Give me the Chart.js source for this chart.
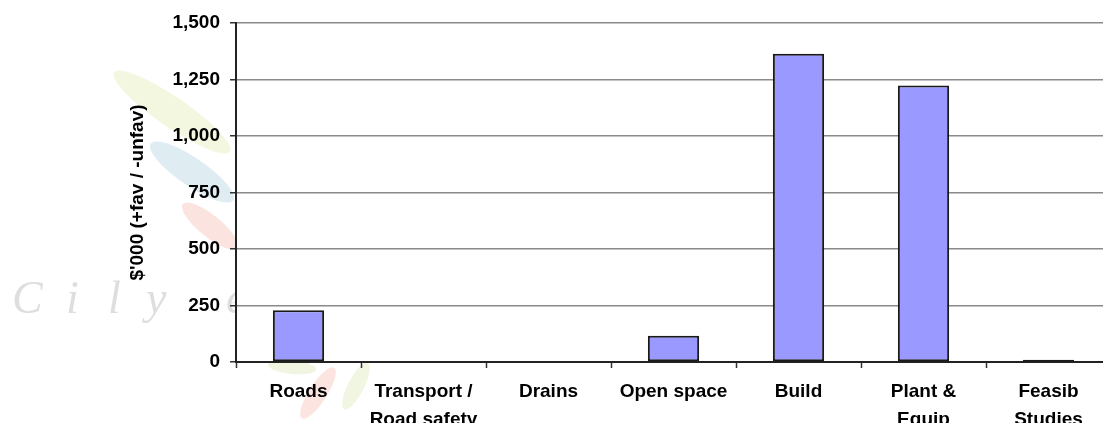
<!DOCTYPE html>
<html>
<head>
<meta charset="utf-8">
<script src="https://cdn.jsdelivr.net/npm/chart.js@4.4.1/dist/chart.umd.min.js"></script>
<style>
  html, body { margin: 0; padding: 0; background: #fff; overflow: hidden; }
  #wrap { width: 1103px; height: 423px; overflow: hidden; }
</style>
</head>
<body>
<div id="wrap"><canvas id="varianceChart" width="1112" height="423"></canvas></div>
<script>
// Capital works variance by program ($'000)
const categories = [
    ['Roads'],
    ['Transport /', 'Road safety'],
    ['Drains'],
    ['Open space'],
    ['Build'],
    ['Plant &', 'Equip'],
    ['Feasib', 'Studies']
];
const variance = [229, 0, 0, 116, 1364, 1224, 10];
const yTicks = [0, 250, 500, 750, 1000, 1250, 1500];

const baseFont = { family: "'Liberation Sans', Arial, sans-serif", size: 19, weight: 'bold' };

// Faded "City" watermark with leaves behind the plot area
const watermark = {
    id: 'watermark',
    beforeDraw(chart) {
        const ctx = chart.ctx;
        ctx.save();
        const leaves = [
            [172, 112, 70, 15, 0.6, 'rgba(220,230,150,0.30)'],
            [192, 172, 50, 14, 0.6, 'rgba(150,195,215,0.30)'],
            [210, 226, 35, 11, 0.68, 'rgba(240,150,135,0.26)'],
            [292, 367, 24, 7, 0.1, 'rgba(205,222,160,0.30)'],
            [318, 393, 30, 9, -1.0, 'rgba(245,155,135,0.26)'],
            [356, 386, 26, 8, -1.1, 'rgba(210,225,160,0.30)']
        ];
        leaves.forEach(([x, y, rx, ry, rot, color]) => {
            ctx.beginPath();
            ctx.ellipse(x, y, rx, ry, rot, 0, Math.PI * 2);
            ctx.fillStyle = color;
            ctx.fill();
        });
        ctx.font = "italic 46px 'Liberation Serif', serif";
        ctx.fillStyle = 'rgba(200,200,200,0.6)';
        ctx.textBaseline = 'alphabetic';
        [['C', 12], ['i', 66], ['l', 108], ['y', 146], ['e', 226]].forEach(([ch, x]) => {
            ctx.fillText(ch, x, 313);
        });
        ctx.restore();
        // white plot background covers the watermark
        const a = chart.chartArea;
        ctx.save();
        ctx.fillStyle = '#fff';
        ctx.fillRect(a.left, a.top, a.right - a.left, a.bottom - a.top);
        ctx.restore();
    }
};

const chart = new Chart(document.getElementById('varianceChart'), {
    type: 'bar',
    data: {
        labels: categories,
        datasets: [{
            data: variance,
            backgroundColor: '#9999ff',
            borderColor: '#1a1a1a',
            borderWidth: 2,
            borderSkipped: false,
            barPercentage: 0.41,
            categoryPercentage: 1
        }]
    },
    options: {
        responsive: false,
        animation: false,
        layout: { padding: { left: 122, top: 23, right: 1, bottom: 0 } },
        plugins: {
            legend: { display: false },
            tooltip: { enabled: false }
        },
        scales: {
            x: {
                grid: {
                    drawOnChartArea: false,
                    offset: true,
                    tickLength: 6,
                    tickColor: '#333',
                    tickWidth: 1.5
                },
                border: { color: '#222', width: 2 },
                ticks: {
                    color: '#000',
                    font: { ...baseFont, lineHeight: 1.45 },
                    padding: 10,
                    maxRotation: 0,
                    autoSkip: false
                },
                afterFit(scale) { scale.height = 61; }
            },
            y: {
                min: 0,
                max: 1500,
                afterBuildTicks(scale) { scale.ticks = yTicks.map(v => ({ value: v })); },
                grid: {
                    color: '#8a8a8a',
                    lineWidth: 1.5,
                    tickLength: 6,
                    tickColor: '#333'
                },
                border: { color: '#222', width: 2 },
                ticks: {
                    color: '#000',
                    font: baseFont,
                    padding: 10,
                    callback: v => v.toLocaleString('en-US')
                },
                title: {
                    display: true,
                    text: "$'000 (+fav / -unfav)",
                    color: '#000',
                    font: baseFont,
                    padding: 4
                },
                afterFit(scale) { scale.width = 114; }
            }
        }
    },
    plugins: [watermark]
});
</script>
</body>
</html>
